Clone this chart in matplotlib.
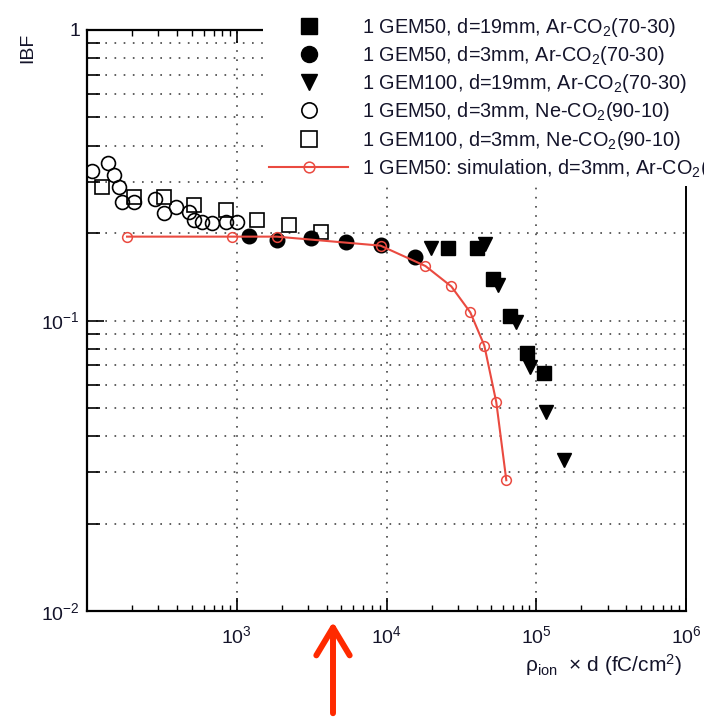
import matplotlib
matplotlib.use("Agg")
import matplotlib.pyplot as plt
from matplotlib.patches import FancyArrowPatch, ArrowStyle

plt.rcParams['font.family'] = ['Liberation Sans', 'DejaVu Sans']
plt.rcParams['mathtext.fontset'] = 'custom'
plt.rcParams['mathtext.rm'] = 'Liberation Sans'
plt.rcParams['mathtext.it'] = 'Liberation Sans:italic'
plt.rcParams['mathtext.bf'] = 'Liberation Sans:bold'

# --- measurements: rho_ion x d (fC/cm^2) vs IBF ---
gem50_d19_ar_x = [25900, 40400, 51700, 67100, 87100, 113000]
gem50_d19_ar_y = [0.177, 0.177, 0.139, 0.1035, 0.077, 0.0658]

gem50_d3_ar_x = [1200, 1850, 3115, 5330, 9120, 15600]
gem50_d3_ar_y = [0.196, 0.190, 0.193, 0.187, 0.182, 0.166]

gem100_d19_ar_x = [19950, 45700, 55800, 73600, 91200, 116600, 153700]
gem100_d19_ar_y = [0.178, 0.184, 0.132, 0.099, 0.0689, 0.0483, 0.033]

gem50_d3_ne_x = [108, 138, 151, 163, 171, 206, 284, 326, 392, 479, 517, 584, 681, 845, 1000]
gem50_d3_ne_y = [0.328, 0.349, 0.318, 0.289, 0.256, 0.256, 0.261, 0.235, 0.245, 0.237,
                 0.222, 0.219, 0.217, 0.219, 0.219]

gem100_d3_ne_x = [126, 206, 326, 517, 845, 1360, 2220, 3630]
gem100_d3_ne_y = [0.289, 0.267, 0.267, 0.250, 0.241, 0.222, 0.214, 0.202]

sim_x = [185, 926, 1850, 9120, 18200, 27100, 36300, 45000, 54100, 63100]
sim_y = [0.1944, 0.1944, 0.1944, 0.181, 0.154, 0.131, 0.1066, 0.082, 0.0523, 0.0282]

labels = [
    r"1 GEM50, d=19mm, Ar-CO$_2$(70-30)",
    r"1 GEM50, d=3mm, Ar-CO$_2$(70-30)",
    r"1 GEM100, d=19mm, Ar-CO$_2$(70-30)",
    r"1 GEM50, d=3mm, Ne-CO$_2$(90-10)",
    r"1 GEM100, d=3mm, Ne-CO$_2$(90-10)",
    r"1 GEM50: simulation, d=3mm, Ar-CO$_2$(70-30)",
]

x_ticks = [1e3, 1e4, 1e5, 1e6]
x_tick_labels = [r"$10^{3}$", r"$10^{4}$", r"$10^{5}$", r"$10^{6}$"]
y_ticks = [1e-2, 1e-1, 1]
y_tick_labels = [r"$10^{-2}$", r"$10^{-1}$", "1"]

TXT = '#14142a'
SIM = '#ea4a40'

fig = plt.figure(figsize=(7.04, 7.2), dpi=100)
W, H = 704, 720
ax = fig.add_axes([87 / W, (H - 611) / H, (686 - 87) / W, (611 - 30) / H])
ax.set_xscale('log')
ax.set_yscale('log')
ax.set_xlim(100, 1e6)
ax.set_ylim(1e-2, 1)

# dotted grid: decades on x, every minor step on y
grid_kw = dict(color='#444444', lw=1.2, ls=(0, (1, 4.5)), zorder=0)
for xv in [1e3, 1e4, 1e5]:
    ax.axvline(xv, **grid_kw)
for dec in [0.01, 0.1]:
    for k in range(1, 10):
        v = dec * k
        if 0.01 < v < 1:
            ax.axhline(v, **grid_kw)

h1, = ax.plot(gem50_d19_ar_x, gem50_d19_ar_y, ls='none', marker='s', ms=10,
              mfc='black', mec='black', zorder=3)
h2, = ax.plot(gem50_d3_ar_x, gem50_d3_ar_y, ls='none', marker='o', ms=10.5,
              mfc='black', mec='black', zorder=3)
h3, = ax.plot(gem100_d19_ar_x, gem100_d19_ar_y, ls='none', marker='v', ms=10,
              mfc='black', mec='black', zorder=3)
h4, = ax.plot(gem50_d3_ne_x, gem50_d3_ne_y, ls='none', marker='o', ms=10,
              mfc='none', mec='black', mew=1.2, zorder=3)
h5, = ax.plot(gem100_d3_ne_x, gem100_d3_ne_y, ls='none', marker='s', ms=10,
              mfc='none', mec='black', mew=1.2, zorder=3)
h6, = ax.plot(sim_x, sim_y, color=SIM, lw=1.5, marker='o', ms=7,
              mfc='none', mec=SIM, mew=1.1, zorder=4)

ax.set_xticks(x_ticks, x_tick_labels)
ax.set_yticks(y_ticks, y_tick_labels)
for lab in ax.get_xticklabels() + ax.get_yticklabels():
    lab.set_color(TXT)
    lab.set_fontsize(14)

ax.tick_params(axis='x', which='major', direction='in', length=9.5, width=1.2,
               top=True, bottom=True, pad=10)
ax.tick_params(axis='x', which='minor', direction='in', length=4.5, width=1.0,
               top=True, bottom=True)
ax.tick_params(axis='y', which='major', direction='in', length=12, width=1.2,
               left=True, right=False, pad=5)
ax.tick_params(axis='y', which='minor', direction='in', length=9, width=1.2,
               left=True, right=False, labelleft=False)
ax.yaxis.set_minor_formatter(matplotlib.ticker.NullFormatter())
ax.xaxis.set_minor_formatter(matplotlib.ticker.NullFormatter())

for side in ['left', 'bottom', 'top']:
    ax.spines[side].set_linewidth(1.6)
ax.spines['right'].set_linewidth(1.4)

fig.text(28 / W, 1 - 33 / H, 'IBF', rotation=90, ha='center', va='top',
         fontsize=14, color=TXT)
fig.text(682 / W, 1 - 665 / H, r"ρ$_{\mathrm{ion}}$  × d (fC/cm$^{2}$)",
         ha='right', va='center', fontsize=15, color=TXT)

leg = fig.legend([h1, h2, h3, h4, h5, h6], labels, loc='upper left',
                 bbox_to_anchor=(263 / W, 1 - 10 / H), bbox_transform=fig.transFigure,
                 fontsize=14.3, frameon=True, fancybox=False, framealpha=1,
                 facecolor='white', edgecolor='none', borderaxespad=0,
                 borderpad=0.3, handlelength=4.0, handletextpad=0.7,
                 labelspacing=0.26, numpoints=1, markerscale=1.1)
for t in leg.get_texts():
    t.set_color(TXT)
leg.set_zorder(10)

arrow = FancyArrowPatch((333, H - 716), (333, H - 619), transform=None,
                        arrowstyle=ArrowStyle('->', head_length=1.0, head_width=0.6),
                        mutation_scale=20, color='#ff2a00', lw=4.3)
fig.add_artist(arrow)

fig.savefig('out.png', dpi=100)
